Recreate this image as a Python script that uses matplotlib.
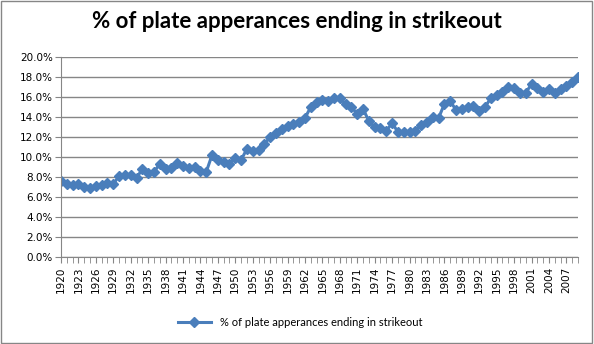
import matplotlib.pyplot as plt
from matplotlib.patches import Rectangle
from matplotlib.ticker import FuncFormatter, MultipleLocator

years = list(range(1920, 2010))
k_pct = [
    7.6, 7.3, 7.2, 7.3, 7.0, 6.9, 7.1, 7.2, 7.4, 7.3,   # 1920s
    8.1, 8.2, 8.2, 7.9, 8.8, 8.4, 8.5, 9.3, 8.8, 8.9,   # 1930s
    9.4, 9.1, 8.9, 9.0, 8.6, 8.5, 10.2, 9.7, 9.5, 9.3,  # 1940s
    9.9, 9.7, 10.8, 10.6, 10.7, 11.3, 12.0, 12.4, 12.8, 13.1,  # 1950s
    13.3, 13.5, 13.9, 15.0, 15.5, 15.7, 15.6, 15.9, 15.9, 15.3,  # 1960s
    15.0, 14.3, 14.8, 13.6, 13.0, 12.9, 12.6, 13.4, 12.5, 12.5,  # 1970s
    12.5, 12.6, 13.2, 13.5, 14.0, 13.9, 15.3, 15.6, 14.7, 14.8,  # 1980s
    15.0, 15.1, 14.6, 15.0, 15.9, 16.2, 16.5, 17.0, 16.9, 16.4,  # 1990s
    16.4, 17.3, 16.9, 16.5, 16.8, 16.4, 16.8, 17.1, 17.5, 18.0,  # 2000s
]
series_name = "% of plate apperances ending in strikeout"
title = "% of plate apperances ending in strikeout"

blue = "#4A7EBB"
grid_gray = "#868686"

fig = plt.figure(figsize=(5.94, 3.44), dpi=100)
ax = fig.add_axes([61 / 594, 1 - 257 / 344, 517 / 594, 200 / 344])

x = list(range(len(years)))
ax.plot(x, k_pct, color=blue, linewidth=2.2, marker="D", markersize=5.5,
        markeredgecolor=blue, label=series_name)

ax.set_xlim(0, len(years) - 1)
ax.set_ylim(0, 20)
ax.yaxis.set_major_locator(MultipleLocator(2))
ax.yaxis.set_major_formatter(FuncFormatter(lambda v, p: f"{v:.1f}%"))
ax.grid(axis="y", color=grid_gray, linewidth=1)
ax.set_axisbelow(True)

ax.set_xticks(x[::3])
ax.set_xticklabels([str(y) for y in years[::3]], rotation=90)
ax.set_xticks(x, minor=True)
ax.tick_params(axis="x", which="both", length=4, color=grid_gray, labelsize=7.5, pad=3)
ax.tick_params(axis="y", length=4, color=grid_gray, labelsize=7.5, pad=2)

for side in ["top", "right"]:
    ax.spines[side].set_visible(False)
for side in ["left", "bottom"]:
    ax.spines[side].set_color(grid_gray)

fig.text(0.5, 1 - 21 / 344, title, ha="center", va="center",
         fontsize=16, fontweight="bold", family="Lato")

handles, labels = ax.get_legend_handles_labels()
fig.legend(handles, labels, loc="center", bbox_to_anchor=(0.505, 1 - 322 / 344),
           frameon=False, handlelength=3, prop={"family": "Lato", "size": 8})

fig.patches.append(Rectangle((0.002, 0.003), 0.995, 0.993, transform=fig.transFigure,
                             fill=False, edgecolor=grid_gray, linewidth=1))

fig.savefig("out.png", dpi=100)
